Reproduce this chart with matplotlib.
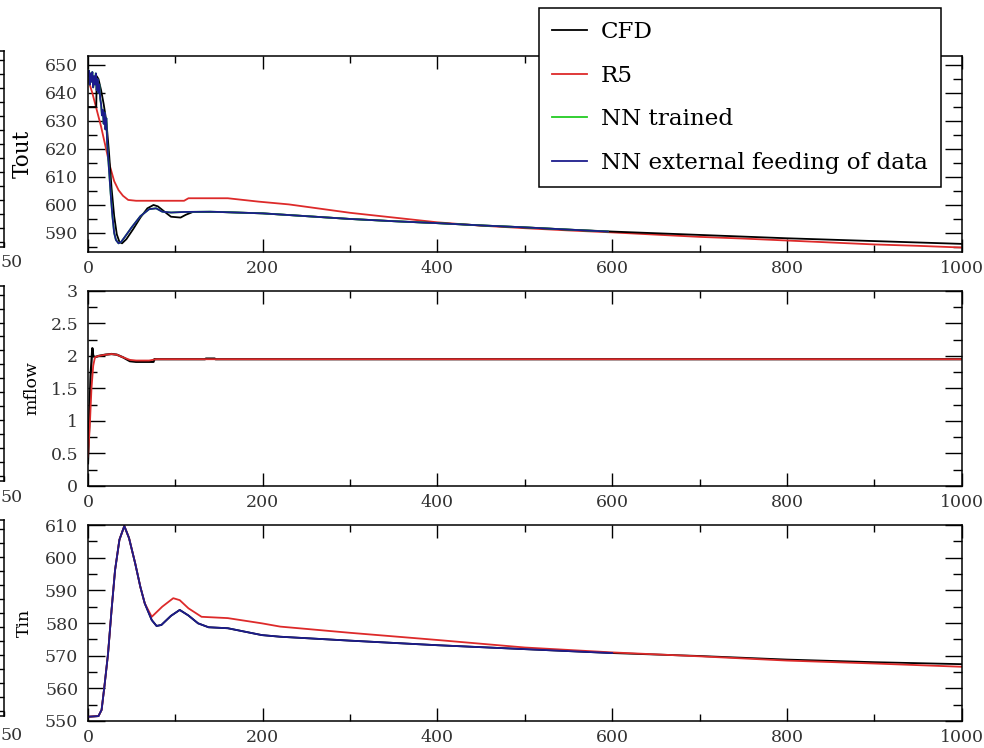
import numpy as np
import matplotlib.pyplot as plt
from matplotlib.ticker import MultipleLocator, FormatStrFormatter
from matplotlib.lines import Line2D

plt.rcParams.update({'font.family': 'DejaVu Serif', 'font.size': 12.5})

# ---- Tout (top panel) ----
cfd_tout_t = [0, 9.5, 10, 12, 15, 18, 21, 24, 27, 30, 33, 36, 39, 44, 52, 60, 68, 75, 80, 88, 95,
              106, 112, 120, 150, 200, 250, 300, 350, 400, 450, 500, 550, 600, 650, 700, 750, 800,
              850, 900, 950, 1000]
cfd_tout = [635, 635, 646, 645, 641, 636, 630, 619, 606, 596, 589.5, 586.8, 586.3, 587.8, 591.5,
            595.5, 598.8, 600, 599.5, 597.5, 595.8, 595.5, 596.5, 597.5, 597.5, 597, 596, 595, 594.2,
            593.5, 592.7, 592, 591.2, 590.5, 589.9, 589.3, 588.7, 588.1, 587.6, 587.1, 586.6, 586.1]

nn_tout_t = [0, 1, 2, 3, 4, 5, 6, 7, 8, 9, 10, 11, 12, 13, 14, 15, 16, 17, 18, 19, 20, 21, 22, 24,
             26, 28, 30, 32, 35, 38, 42, 50, 60, 70, 78, 85, 95, 110, 140, 200, 250, 300, 350, 400,
             450, 500, 550, 595]
nn_tout = [646, 648, 643, 647, 644, 647.5, 642, 646, 643, 647, 641, 645, 640, 643, 638, 636, 632,
           634, 629, 633, 627, 631, 622, 613, 604, 596, 590, 587.5, 586.3, 586.8, 588.5, 592, 596,
           598.5, 598.8, 597.6, 597.3, 597.5, 597.6, 597, 596, 595, 594.2, 593.5, 592.7, 592, 591.2,
           590.5]

r5_tout_t = [0, 5, 10, 15, 20, 25, 30, 35, 40, 46, 55, 110, 115, 160, 195, 230, 300, 350, 400, 450,
             500, 550, 600, 650, 700, 750, 800, 850, 900, 950, 1000]
r5_tout = [645, 640, 634, 628, 621, 614, 608.5, 605.3, 603.3, 601.8, 601.5, 601.5, 602.4, 602.4,
           601.2, 600.2, 597.2, 595.5, 593.8, 592.6, 591.7, 590.9, 590.2, 589.4, 588.6, 588, 587.3,
           586.6, 585.9, 585.4, 584.8]

# ---- mflow (middle panel) ----
cfd_mflow_t = [0, 1.5, 3, 5, 6, 8, 12, 20, 27, 33, 40, 48, 55, 75, 76, 134, 135, 145, 146, 1000]
cfd_mflow = [0.35, 1.0, 1.7, 2.12, 2.0, 1.98, 2.0, 2.02, 2.03, 2.02, 1.98, 1.92, 1.91, 1.91, 1.95,
             1.95, 1.96, 1.96, 1.95, 1.95]
r5_mflow_t = [0, 2, 4, 6, 8, 12, 20, 27, 33, 40, 48, 55, 70, 78, 1000]
r5_mflow = [0.45, 0.9, 1.5, 1.85, 1.98, 2.0, 2.02, 2.03, 2.02, 1.98, 1.94, 1.93, 1.93, 1.95, 1.95]

# ---- Tin (bottom panel) ----
nn_tin_t = [0, 12, 15.6, 19, 23, 27, 31, 36, 41.6, 47, 54, 60, 65, 73, 78.5, 84, 95, 105, 115, 126,
            138, 160, 199, 220, 300, 400, 500, 600]
nn_tin = [551.3, 551.5, 553.4, 561, 570.7, 584, 596.2, 605.5, 609.7, 606, 598.3, 591, 586, 580.9,
          579.1, 579.4, 582.2, 584, 582.3, 579.9, 578.7, 578.4, 576.3, 575.8, 574.6, 573.2, 572,
          570.8]

r5_tin_t = [0, 12, 15.6, 19, 23, 27, 31, 36, 41.6, 47, 54, 60, 65, 73, 85, 97.6, 105, 115, 130, 160,
            199, 220, 300, 400, 500, 600, 700, 800, 900, 1000]
r5_tin = [551.3, 551.5, 553.4, 561, 570.7, 584, 596.2, 605.5, 609.7, 606, 598.3, 591, 586, 581.9,
          585, 587.6, 587, 584.5, 581.9, 581.5, 579.9, 578.9, 577, 574.8, 572.5, 571, 569.8, 568.5,
          567.6, 566.6]

cfd_tin_t = [0, 12, 15.6, 19, 23, 27, 31, 36, 41.6, 47, 54, 60, 65, 73, 78.5, 84, 95, 105, 115, 126,
             138, 160, 199, 220, 300, 400, 500, 600, 700, 800, 900, 1000]
cfd_tin = [551.3, 551.5, 553.4, 561, 570.7, 584, 596.2, 605.5, 609.7, 606, 598.3, 591, 586, 580.9,
           579.1, 579.4, 582.2, 584, 582.3, 579.9, 578.7, 578.4, 576.3, 575.8, 574.6, 573.2, 572,
           570.8, 569.9, 568.8, 568, 567.4]

BLACK = 'black'
RED = '#dd2a2a'
GREEN = '#22cc22'
BLUE = '#1c1c8c'
LW = 1.3

fig = plt.figure(figsize=(9.84, 7.48), dpi=100)

ax_top = fig.add_axes([0.0894, 0.6631, 0.888, 0.262])
ax_mid = fig.add_axes([0.0894, 0.3503, 0.888, 0.2607])
ax_bot = fig.add_axes([0.0894, 0.0361, 0.888, 0.262])


def style(ax, ylo, yhi, major, minor):
    ax.set_xlim(0, 1000)
    ax.set_ylim(ylo, yhi)
    ax.xaxis.set_major_locator(MultipleLocator(200))
    ax.xaxis.set_minor_locator(MultipleLocator(100))
    ax.yaxis.set_major_locator(MultipleLocator(major))
    ax.yaxis.set_minor_locator(MultipleLocator(minor))
    ax.yaxis.set_major_formatter(FormatStrFormatter('%g'))
    ax.tick_params(which='both', direction='in', top=True, right=True,
                   labelcolor='#333333', width=1.0)
    ax.tick_params(axis='x', which='major', length=9.5, pad=6)
    ax.tick_params(axis='x', which='minor', length=5)
    ax.tick_params(axis='y', which='major', length=12, pad=7)
    ax.tick_params(axis='y', which='minor', length=6.5)
    for s in ax.spines.values():
        s.set_linewidth(1.1)


# top
ax_top.plot(r5_tout_t, r5_tout, color=RED, lw=LW)
ax_top.plot(cfd_tout_t, cfd_tout, color=BLACK, lw=LW)
ax_top.plot(nn_tout_t, nn_tout, color=GREEN, lw=LW)
ax_top.plot(nn_tout_t, nn_tout, color=BLUE, lw=LW)
style(ax_top, 583.2, 653.2, 10, 5)
ax_top.set_ylabel('Tout', fontsize=15.5)
ax_top.yaxis.set_label_coords(-0.062, 0.5)

# middle
ax_mid.plot(cfd_mflow_t, cfd_mflow, color=BLACK, lw=1.6)
ax_mid.plot(r5_mflow_t, r5_mflow, color=RED, lw=LW)
style(ax_mid, 0, 3, 0.5, 0.25)
ax_mid.set_ylabel('mflow', fontsize=12.5)
ax_mid.yaxis.set_label_coords(-0.055, 0.5)

# bottom
ax_bot.plot(cfd_tin_t, cfd_tin, color=BLACK, lw=LW)
ax_bot.plot(r5_tin_t, r5_tin, color=RED, lw=LW)
ax_bot.plot(nn_tin_t, nn_tin, color=BLUE, lw=LW)
style(ax_bot, 550, 610, 10, 5)
ax_bot.set_ylabel('Tin', fontsize=12.5)
ax_bot.yaxis.set_label_coords(-0.063, 0.5)

# neighbouring panels cut off at the left edge of the picture
for ax_main, label_y in [(ax_top, 262), (ax_mid, 497), (ax_bot, 735)]:
    b = ax_main.get_position()
    ax_l = fig.add_axes([-0.3, b.y0 + 0.007, 0.304, b.height])
    ax_l.set_xlim(0, 250)
    ax_l.set_ylim(583.2, 653.2)
    ax_l.set_xticks([250])
    ax_l.yaxis.set_major_locator(MultipleLocator(10))
    ax_l.yaxis.set_minor_locator(MultipleLocator(5))
    ax_l.tick_params(which='both', direction='in', right=True, labelleft=False,
                     labelbottom=False, width=1.0)
    ax_l.tick_params(axis='y', which='major', length=12)
    ax_l.tick_params(axis='y', which='minor', length=6.5)
    for s in ax_l.spines.values():
        s.set_linewidth(1.1)
    fig.text(0.5 / 984, 1 - label_y / 748, '50', ha='left', va='center',
             color='#333333', fontsize=12.5)

handles = [Line2D([], [], color=c, lw=LW) for c in (BLACK, RED, GREEN, BLUE)]
labels = ['CFD', 'R5', 'NN trained', 'NN external feeding of data']
leg = fig.legend(handles, labels, loc='upper left',
                 bbox_to_anchor=(539 / 984, 1 - 8 / 748), bbox_transform=fig.transFigure,
                 borderaxespad=0, fontsize=16.6, fancybox=False, edgecolor='black',
                 framealpha=1, handlelength=1.55, handletextpad=0.6, labelspacing=0.95,
                 borderpad=0.55)
leg.get_frame().set_linewidth(1.1)

fig.savefig('out.png', dpi=100)
